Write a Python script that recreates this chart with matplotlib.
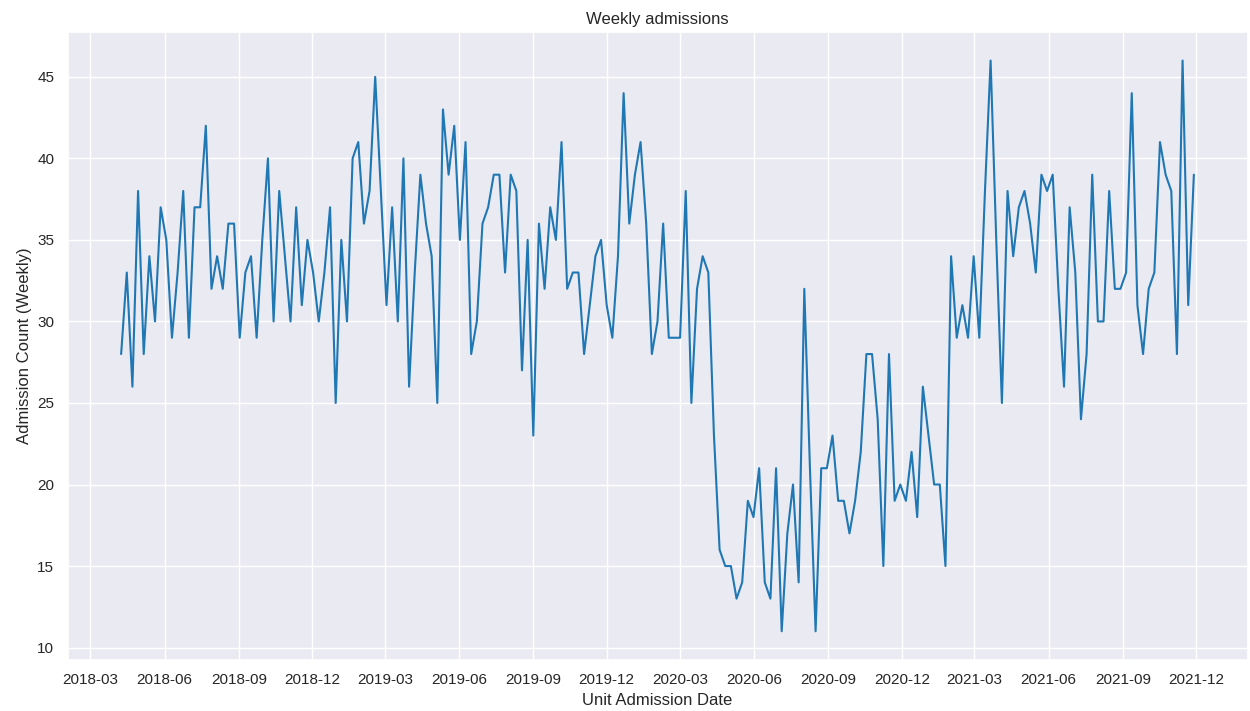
import pandas as pd
import matplotlib
matplotlib.use("Agg")
import matplotlib.pyplot as plt
import matplotlib.dates as mdates
import seaborn as sns

# Wochenwerte der Aufnahmen (Sonntag-Wochen ab 2018-04-08)
start_datum = "2018-04-08"
aufnahmen = [
    28, 33, 26, 38, 28, 34, 30, 37, 35, 29, 33, 38, 29, 37, 37, 42, 32, 34, 32, 36,
    36, 29, 33, 34, 29, 35, 40, 30, 38, 34, 30, 37, 31, 35, 33, 30, 33, 37, 25,
    35, 30, 40, 41, 36, 38, 45, 38, 31, 37, 30, 40, 26, 33, 39, 36, 34, 25, 43, 39,
    42, 35, 41, 28, 30, 36, 37, 39, 39, 33, 39, 38, 27, 35, 23, 36, 32, 37, 35,
    41, 32, 33, 33, 28, 31, 34, 35, 31, 29, 34, 44, 36, 39, 41, 36, 28, 30, 36, 29,
    29, 29, 38, 25, 32, 34, 33, 23, 16, 15, 15, 13, 14, 19, 18, 21, 14, 13, 21,
    11, 17, 20, 14, 32, 21, 11, 21, 21, 23, 19, 19, 17, 19, 22, 28, 28, 24, 15,
    28, 19, 20, 19, 22, 18, 26, 23, 20, 20, 15, 34, 29, 31, 29, 34, 29, 38,
    46, 35, 25, 38, 34, 37, 38, 36, 33, 39, 38, 39, 32, 26, 37, 33, 24, 28, 39, 30, 30,
    38, 32, 32, 33, 44, 31, 28, 32, 33, 41, 39, 38, 28, 46, 31, 39,
]
titel = "Weekly admissions"
x_label = "Unit Admission Date"
y_label = "Admission Count (Weekly)"

daten = pd.Series(aufnahmen, index=pd.date_range(start_datum, periods=len(aufnahmen), freq="7D"))

sns.set_theme(style="darkgrid")
plt.rcParams["font.family"] = ["Liberation Sans", "DejaVu Sans"]

fig, ax = plt.subplots(figsize=(12.5, 7.11), dpi=100)
ax.plot(daten.index, daten.values, color="#1f77b4", linewidth=1.5)

ax.set_title(titel, fontsize=12)
ax.set_xlabel(x_label, fontsize=12)
ax.set_ylabel(y_label, fontsize=12)
ax.xaxis.set_major_locator(mdates.MonthLocator(bymonth=[3, 6, 9, 12]))
ax.xaxis.set_major_formatter(mdates.DateFormatter("%Y-%m"))
ax.tick_params(labelsize=11)

plt.subplots_adjust(left=0.054, right=0.998, top=0.955, bottom=0.072)
plt.savefig("out.png", dpi=100)
